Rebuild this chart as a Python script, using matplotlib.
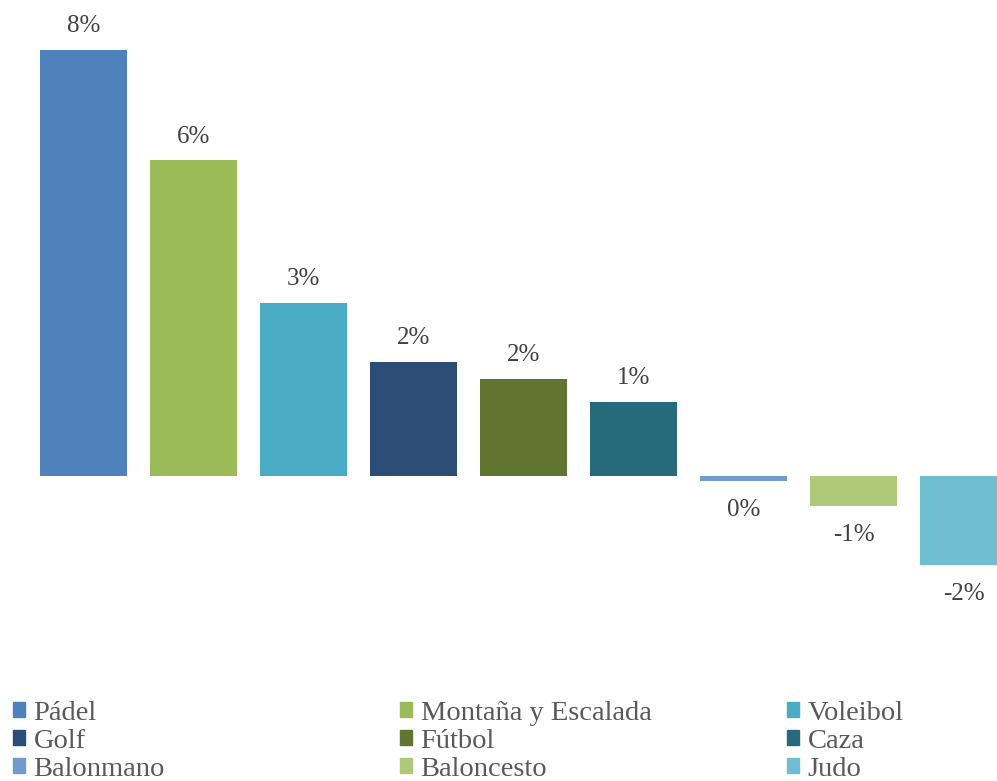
import numpy as np
import matplotlib.pyplot as plt
from matplotlib.patches import Patch

plt.rcParams['font.family'] = ['Liberation Serif', 'DejaVu Serif']

## Data
deportes = ['Pádel', 'Montaña y Escalada', 'Voleibol', 'Golf', 'Fútbol',
            'Caza', 'Balonmano', 'Baloncesto', 'Judo']
variacion = [8.0, 5.93, 3.25, 2.14, 1.82, 1.39, -0.09, -0.56, -1.67]
colores = ['#4F81BD', '#9BBB59', '#4BACC6', '#2C4D75', '#5F7530',
           '#276A7C', '#729ACA', '#AFC97A', '#6FBDD1']

W, H = 997, 781
fig = plt.figure(figsize=(W / 100, H / 100), dpi=100)
# axes fill the top part of the figure, legend goes below
ax = fig.add_axes([0, 1 - 640 / H, 1, 640 / H])

x = np.arange(len(deportes))
bars = ax.bar(x, variacion, width=0.79, color=colores)

for xi, v in zip(x, variacion):
    off = 17.0 if v >= 0 else -21.0
    ax.annotate(f'{int(round(v))}%', (xi, v), xytext=(0, off),
                textcoords='offset points', ha='center', va='center',
                fontsize=18, color='#404040')

ax.set_xlim(-0.759, 8.305)
ax.set_ylim(-3.08, 8.94)
ax.axis('off')

## Legend: three columns, filled row by row
for j, xpix in enumerate([13, 400, 787]):
    idx = [j, j + 3, j + 6]
    handles = [Patch(color=colores[i]) for i in idx]
    labels = [deportes[i] for i in idx]
    fig.legend(handles, labels, loc='upper left',
               bbox_to_anchor=(xpix / W, 1 - 701 / H),
               frameon=False, fontsize=20.5, labelcolor='#595959',
               handlelength=0.42, handleheight=0.42, handletextpad=0.3,
               labelspacing=0.1, borderpad=0, borderaxespad=0)

fig.savefig('out.png', dpi=100)
